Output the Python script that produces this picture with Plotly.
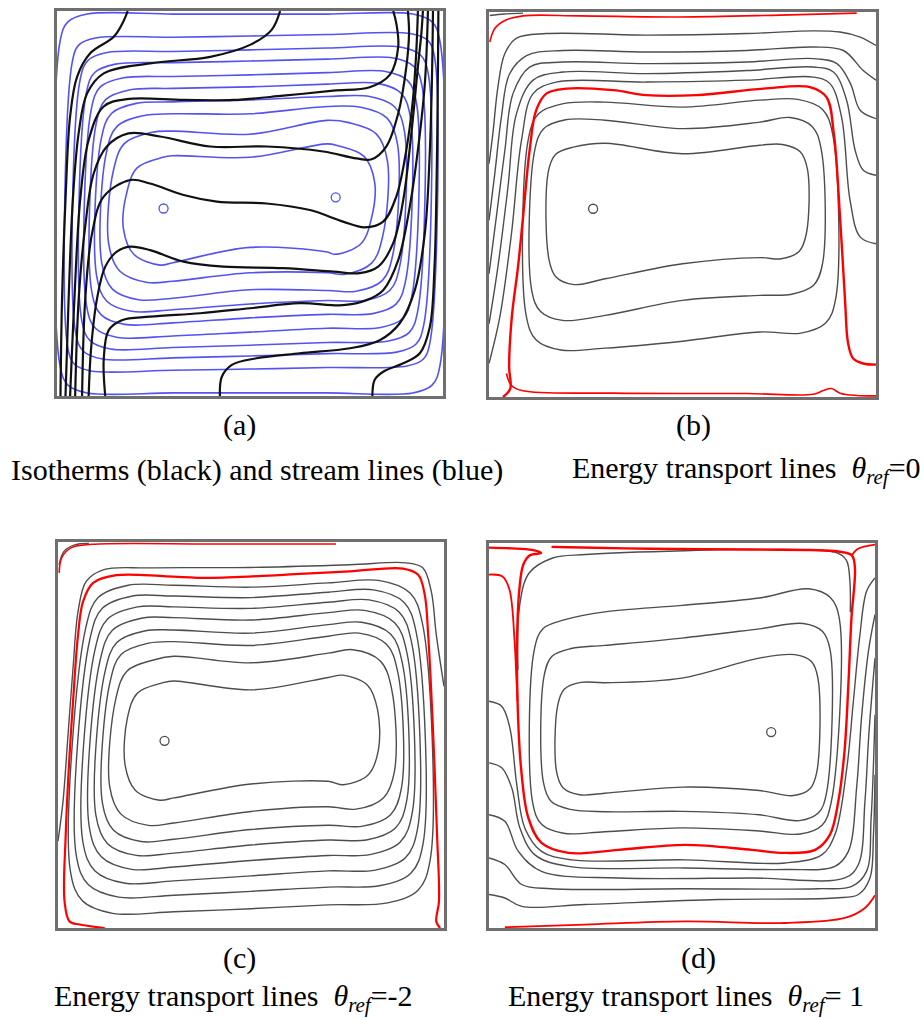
import plotly.graph_objects as go

W, H = 924, 1018

# ---------------------------------------------------------------- data
# All coordinates are in cavity units (0..100 in X and Y, Y upward).
STATIONS = [30, 50, 70]  # interior x-stations where top / bottom of each closed loop were read

# ---- panel (a): stream lines (closed loops, outer -> inner)
A_STREAM_LEFT_LO = [0.8, 2.8, 4.8, 6.4, 7.7, 9.0, 10.3, 11.6, 13.4, 17.2]
A_STREAM_LEFT_HI = [0.8, 4.0, 6.0, 7.6, 8.9, 10.2, 11.5, 12.8, 14.6, 18.0]
A_STREAM_RIGHT_LO = [99.2, 96.6, 95.0, 93.4, 91.9, 90.3, 88.8, 87.0, 84.4, 81.5]
A_STREAM_RIGHT_HI = [99.2, 97.8, 96.2, 94.6, 93.1, 91.5, 90.0, 88.2, 85.6, 82.3]
A_STREAM_TOP = [
    [99.2, 99.2, 99.2, 99.2, 99.2],
    [93.0, 93.2, 93.5, 93.9, 94.1],
    [89.2, 89.5, 89.9, 90.4, 90.6],
    [86.2, 86.6, 87.0, 87.5, 87.8],
    [82.6, 83.0, 83.4, 84.0, 84.3],
    [79.5, 79.9, 80.3, 81.0, 81.2],
    [76.0, 76.4, 76.9, 77.8, 77.8],
    [72.8, 73.3, 73.3, 75.2, 75.0],
    [68.5, 68.8, 68.0, 71.6, 71.0],
    [62.0, 62.4, 62.0, 65.5, 65.0],
]
A_STREAM_BOTTOM = [
    [0.8, 0.8, 0.8, 0.8, 0.8],
    [6.5, 6.7, 7.0, 7.4, 7.8],
    [9.6, 9.9, 10.4, 11.0, 11.4],
    [12.2, 12.6, 13.2, 13.9, 14.3],
    [15.2, 15.6, 16.6, 17.6, 17.8],
    [18.6, 19.0, 20.3, 21.2, 21.4],
    [22.0, 22.4, 23.9, 24.8, 24.8],
    [25.0, 25.4, 27.6, 27.4, 27.2],
    [29.5, 29.8, 32.0, 32.0, 31.6],
    [34.0, 34.6, 38.6, 37.4, 36.8],
]
A_STREAM_CORNER = [7, 6, 7, 7.5, 8, 8.5, 9, 9.5, 10, 9.5]
A_STREAM_CENTER_X = [27.6, 72.2]
A_STREAM_CENTER_Y = [48.7, 51.6]

# ---- panel (a): isotherms (open, bottom wall -> top wall)
A_ISOTHERM_X = [
    [0.9, 1.3, 2.2, 3.4, 5.2, 8.6, 14.7, 17.4, 18.3],
    [2.2, 3.0, 4.1, 5.6, 7.8, 12.1, 24.1, 39.7, 50.0, 55.6, 57.8],
    [3.4, 4.5, 6.0, 8.2, 12.1, 18.1, 32.8, 45.7, 58.6, 71.6, 81.0, 86.2, 88.4, 87.9, 87.1],
    [4.7, 5.6, 7.3, 9.5, 12.9, 18.5, 26.7, 39.7, 54.3, 69.0, 77.6, 81.5, 85.3, 88.4, 90.5, 91.2, 90.9],
    [6.5, 7.3, 9.1, 12.1, 19.0, 24.1, 32.8, 41.4, 54.3, 65.5, 74.1, 79.7, 84.5, 87.9, 90.5, 92.2, 93.1, 93.5],
    [8.2, 8.8, 10.3, 12.5, 15.5, 19.0, 24.1, 32.8, 43.1, 58.6, 71.6, 78.4, 83.2, 87.1, 89.7, 91.8, 93.5, 94.4, 94.8],
    [12.5, 12.1, 13.4, 16.8, 24.1, 37.1, 50.0, 62.9, 74.1, 80.2, 84.5, 88.4, 91.4, 93.5, 95.3, 96.1],
    [42.2, 42.7, 45.3, 51.7, 62.9, 75.9, 83.6, 88.8, 92.7, 95.3, 96.6, 97.2, 97.4],
    [81.7, 82.3, 84.5, 89.7, 94.0, 96.6, 97.8, 98.4, 98.7, 98.8],
]
A_ISOTHERM_Y = [
    [0, 24.9, 50.9, 72.6, 82.9, 89.0, 93.3, 97.7, 100],
    [0, 24.9, 50.9, 68.2, 78.6, 83.8, 86.4, 88.1, 91.2, 95.1, 100],
    [0, 24.9, 50.9, 66.5, 75.2, 77.1, 76.9, 76.9, 78.0, 79.3, 80.2, 83.4, 90.7, 96.8, 100],
    [0, 24.9, 44.0, 57.8, 64.8, 68.2, 67.4, 64.8, 64.8, 63.5, 61.7, 61.5, 64.8, 73.4, 85.5, 94.2, 100],
    [0, 24.9, 42.3, 51.8, 56.1, 55.2, 52.2, 50.5, 50.0, 48.3, 45.3, 43.8, 45.3, 51.8, 63.9, 76.9, 89.9, 100],
    [0, 11.9, 24.9, 33.6, 37.5, 38.8, 37.9, 34.9, 33.6, 33.2, 32.3, 31.9, 33.6, 39.7, 50.9, 68.2, 85.5, 94.2, 100],
    [0, 9.4, 17.1, 19.7, 20.6, 21.5, 22.8, 24.1, 23.6, 24.9, 27.5, 35.3, 49.2, 63.9, 81.2, 100],
    [0, 5.0, 8.1, 9.8, 11.1, 12.4, 14.5, 18.9, 27.5, 42.3, 63.9, 85.5, 100],
    [0, 4.2, 6.3, 8.5, 11.1, 18.0, 33.6, 59.6, 85.5, 100],
]

# ---- panel (b): energy transport lines, theta_ref = 0
B_LOOP_LEFT_LO = [15.5, 11.0, 9.6]
B_LOOP_LEFT_HI = [15.3, 11.8, 10.2]
B_LOOP_RIGHT_LO = [82.0, 86.2, 89.6]
B_LOOP_RIGHT_HI = [82.3, 85.8, 88.8]
B_LOOP_TOP = [[64.9, 65.9, 63.2, 65.4, 65.6], [72.0, 71.9, 69.7, 71.4, 72.6], [76.2, 76.6, 75.3, 77.1, 77.3]]
B_LOOP_BOTTOM = [[29.2, 30.7, 34.6, 36.2, 35.9], [19.9, 21.2, 25.1, 26.4, 26.7], [12.2, 12.7, 14.5, 16.9, 16.6]]
B_LOOP_CORNER = [6.5, 8, 9]
B_OPEN_X = [
    [0, 1.0, 2.3, 4.1, 7.1, 14.8, 40.7, 66.6, 83.8, 90.7, 95.9, 100],
    [0, 1.5, 3.2, 5.3, 9.7, 19.1, 40.7, 66.6, 83.8, 91.6, 96.7, 100],
    [0, 1.9, 4.1, 6.2, 10.5, 19.1, 40.7, 66.6, 83.8, 89.9, 93.4, 95.9, 100],
    [0, 2.3, 4.9, 7.1, 11.4, 19.1, 40.7, 66.6, 83.8, 89.0, 92.4, 94.6, 96.7, 100],
    [0, 2.8, 5.8, 8.4, 11.4, 17.4, 40.7, 66.6, 83.8, 88.1, 91.1, 93.3, 95.9, 100],
    [0.2, 4.0, 8.8],
]
B_OPEN_Y = [
    [60.6, 68.4, 80.5, 89.2, 93.2, 94.4, 94.0, 94.4, 95.1, 94.8, 93.5, 91.3],
    [45.9, 58.0, 72.7, 83.9, 88.7, 90.0, 89.6, 90.0, 90.9, 90.0, 84.8, 82.3],
    [32.0, 46.8, 64.1, 78.8, 85.7, 87.0, 86.6, 87.0, 87.9, 86.6, 81.4, 74.5, 72.3],
    [19.0, 33.8, 54.5, 73.6, 82.3, 84.4, 84.0, 84.8, 85.7, 84.4, 77.1, 64.1, 58.9, 57.6],
    [8.7, 20.8, 42.4, 66.7, 78.8, 81.8, 81.8, 82.3, 83.1, 81.4, 72.7, 51.1, 41.6, 39.8],
    [99.1, 99.5, 99.7],
]
B_RED_X = [
    [3.6, 5.5, 5.2, 5.9, 7.5, 8.8, 10.5, 12.2, 14.8, 20.0, 32.1, 40.7, 53.6, 70.9, 82.9, 87.2, 89.1, 90.7, 92.0, 92.8, 94.1, 96.7, 100],
    [4.5, 5.8, 8.8, 32.1, 66.6, 83.8, 86.4, 88.5, 90.7, 95.0, 100],
    [0.2, 1.5, 4.1, 8.8, 23.4, 49.3, 75.2, 95.0],
]
B_RED_Y = [
    [0, 2.2, 7.8, 20.8, 33.8, 46.8, 64.1, 74.5, 78.8, 80.1, 79.7, 78.4, 78.4, 80.1, 80.5, 77.9, 68.4, 46.8, 25.1, 13.9, 10.0, 8.7, 8.4],
    [6.1, 3.0, 1.6, 1.0, 0.9, 0.7, 1.7, 2.2, 1.0, 0.4, 0.3],
    [92.2, 95.7, 97.8, 99.0, 99.0, 98.7, 99.2, 99.7],
]
B_CENTER_X = [26.9]
B_CENTER_Y = [48.9]

# ---- panel (c): energy transport lines, theta_ref = -2
C_LOOP_LEFT_LO = [3.2, 4.7, 6.4, 8.1, 9.8, 11.5, 13.4, 17.4]
C_LOOP_LEFT_HI = [7.2, 8.3, 9.6, 10.9, 12.2, 13.5, 15.0, 18.0]
C_LOOP_RIGHT_LO = [96.4, 94.6, 93.2, 91.8, 90.4, 89.0, 87.2, 83.0]
C_LOOP_RIGHT_HI = [94.4, 92.8, 91.6, 90.4, 89.2, 88.0, 86.4, 82.8]
C_LOOP_TOP = [
    [88.8, 88.8, 88.3, 89.4, 90.0],
    [86.0, 86.0, 85.6, 87.0, 87.6],
    [83.2, 83.2, 82.8, 84.4, 85.0],
    [80.3, 80.4, 79.8, 81.7, 82.3],
    [77.0, 77.2, 76.4, 78.6, 79.2],
    [73.8, 74.2, 73.2, 75.6, 76.4],
    [69.5, 70.4, 68.7, 71.2, 72.1],
    [63.5, 64.0, 61.7, 64.9, 65.5],
]
C_LOOP_BOTTOM = [
    [3.8, 4.2, 5.0, 6.0, 6.5],
    [8.0, 8.5, 9.5, 10.6, 11.0],
    [11.6, 12.2, 13.5, 14.8, 15.0],
    [15.2, 15.8, 17.5, 18.8, 19.0],
    [18.8, 19.4, 21.5, 22.8, 22.8],
    [22.4, 23.0, 25.5, 26.6, 26.4],
    [26.6, 27.2, 30.2, 31.4, 30.8],
    [33.1, 33.7, 37.3, 38.0, 37.1],
]
C_LOOP_CORNER = [11, 11, 11, 11, 10.5, 10, 10, 9]
C_OPEN_X = [
    [0, 1.3, 2.6, 3.9, 5.2, 7.3, 11.7, 23.7, 49.7, 75.6, 90.2, 94.5, 96.7, 98.0, 100],
    [0.3, 1.5, 4.5, 8.0],
]
C_OPEN_Y = [
    [22.5, 32.8, 50.1, 67.4, 82.0, 89.8, 92.8, 93.3, 93.4, 94.1, 94.6, 93.3, 87.2, 76.0, 62.6],
    [94.0, 97.5, 99.3, 99.6],
]
C_RED_X = [
    [12.1, 5.6, 3.0, 1.7, 2.0, 2.8, 3.9, 5.2, 6.5, 9.1, 15.1, 28.1, 39.3, 58.3, 75.6, 89.4, 93.3, 95.0, 95.9, 97.2, 98.2, 98.7, 98.0, 99.0],
    [0.3, 1.0, 3.6, 8.8, 40.0, 72.0],
]
C_RED_Y = [
    [0, 0.9, 1.7, 6.9, 24.2, 41.5, 58.7, 76.0, 84.6, 89.4, 91.4, 91.1, 90.7, 91.5, 92.4, 93.1, 91.5, 86.4, 76.0, 50.1, 24.2, 6.9, 1.7, 0],
    [92.0, 96.0, 98.6, 99.4, 99.5, 99.5],
]
C_CENTER_X = [27.6]
C_CENTER_Y = [48.5]

# ---- panel (d): energy transport lines, theta_ref = 1
D_LOOP_LEFT_LO = [17.5, 14.1, 11.3]
D_LOOP_LEFT_HI = [17.8, 14.3, 11.7]
D_LOOP_RIGHT_LO = [84.9, 87.4, 88.6]
D_LOOP_RIGHT_HI = [85.2, 88.4, 90.8]
D_LOOP_TOP = [[63.8, 63.7, 64.9, 70.1, 71.0], [72.6, 73.4, 75.3, 77.7, 79.1], [80.1, 82.1, 83.8, 85.7, 88.1]]
D_LOOP_BOTTOM = [[34.6, 35.0, 36.6, 35.7, 34.4], [30.8, 30.2, 30.3, 29.4, 27.9], [24.6, 25.0, 26.0, 25.2, 24.4]]
D_LOOP_CORNER = [6, 7, 8]
D_OPEN_X = [
    [0, 3.3, 5.4, 7.2, 9.3, 13.6, 21.4, 50.8, 76.7, 86.2, 89.6, 92.7, 94.4, 96.1, 97.8, 100],
    [0, 3.3, 5.9, 8.0, 11.9, 20.6, 50.8, 76.7, 89.6, 93.1, 95.3, 96.5, 98.3, 100],
    [0, 4.1, 7.6, 13.6, 33.5, 68.0, 92.2, 95.7, 97.4, 98.4, 100],
    [0, 4.1, 8.5, 16.2, 50.8, 85.3, 94.0, 97.8, 99.0, 100],
    [0, 4.1, 8.5, 24.9, 59.4, 89.6, 95.7, 98.7, 99.6, 100],
    [7.5, 7.9, 10.4, 16.5, 25.1, 50.8, 76.7, 90.0, 92.6, 93.5, 93.6],
]
D_OPEN_Y = [
    [58.9, 57.6, 52.0, 37.2, 25.9, 19.9, 17.7, 17.7, 16.9, 19.0, 24.2, 41.6, 58.9, 76.2, 87.4, 90.9],
    [42.9, 41.6, 36.4, 26.0, 19.0, 16.0, 15.6, 15.2, 16.0, 19.9, 37.2, 54.5, 71.9, 81.4],
    [29.4, 27.7, 19.9, 14.7, 13.0, 13.0, 13.0, 16.5, 32.9, 50.2, 70.1],
    [18.2, 16.5, 11.3, 10.2, 10.2, 10.2, 10.8, 14.7, 28.6, 55.4],
    [8.7, 7.8, 5.6, 6.1, 7.4, 7.8, 8.7, 13.0, 24.2, 39.8],
    [67.1, 83.5, 92.2, 96.1, 97.0, 98.0, 98.3, 97.5, 95.5, 90.0, 82.0],
]
D_RED_X = [
    [0, 5.9, 11.1, 13.5, 10.6, 8.9, 7.9, 7.3, 7.4, 8.3, 10.2, 13.6, 20.6, 33.5, 50.8, 68.0, 76.7, 84.5, 88.3, 90.5, 92.1, 93.1, 93.9, 94.8, 94.0, 90.5, 68.0, 42.1, 20.6, 16.2],
    [94.0, 95.3, 97.4, 100],
    [0, 3.5, 5.3, 6.6, 7.0, 7.4],
    [4.1, 24.9, 50.8, 76.7, 92.2, 97.4, 100],
]
D_RED_Y = [
    [98.8, 98.6, 98.2, 97.4, 96.8, 94.4, 88.3, 76.2, 58.9, 41.6, 28.6, 22.1, 19.5, 20.3, 21.6, 20.3, 19.5, 20.3, 24.2, 32.9, 45.9, 63.2, 80.5, 93.5, 96.8, 97.8, 98.3, 98.5, 98.9, 99.0],
    [96.8, 98.3, 99.1, 99.6],
    [91.8, 91.3, 87.9, 74.9, 67.1, 58.9],
    [0.2, 0.9, 1.7, 1.3, 2.6, 5.2, 8.5],
]
D_CENTER_X = [73.1]
D_CENTER_Y = [50.9]

LABELS = ["(a)", "(b)", "(c)", "(d)"]
CAPTIONS = [
    "Isotherms (black) and stream lines (blue)",
    "Energy transport lines\u00a0\u00a0<i>θ<sub>ref</sub></i>=0",
    "Energy transport lines\u00a0\u00a0<i>θ<sub>ref</sub></i>=-2",
    "Energy transport lines\u00a0\u00a0<i>θ<sub>ref</sub></i>= 1",
]

# ---------------------------------------------------------------- layout / style
PANEL_BOX = [(57, 11, 443, 396), (489, 12, 876, 397), (58, 542, 444, 928), (489, 543, 875, 928)]
LABEL_POS = [(240, 425), (693, 425), (240, 958), (698, 958)]
CAPTION_POS = [(257, 470, "center"), (570, 470, "left"), (52, 998, "left"), (506, 998, "left")]

BLUE = "#5353f2"
BLACK = "#111111"
GRAY = "#4d4d4d"
RED = "#ff0000"
FRAME = "#6f6f6f"
FONT = "Liberation Serif"


def loop_xy(llo, lhi, rlo, rhi, top, bot, r):
    k = 0.29
    pts = [
        (llo, bot[0] + r), (lhi, top[0] - r), (lhi + k * r, top[0] - k * r), (lhi + r, top[0]),
        (STATIONS[0], top[1]), (STATIONS[1], top[2]), (STATIONS[2], top[3]),
        (rhi - r, top[4]), (rhi - k * r, top[4] - k * r), (rhi, top[4] - r),
        (rlo, bot[4] + r), (rlo - k * r, bot[4] + k * r), (rlo - r, bot[4]),
        (STATIONS[2], bot[3]), (STATIONS[1], bot[2]), (STATIONS[0], bot[1]),
        (llo + r, bot[0]), (llo + k * r, bot[0] + k * r),
    ]
    pts.append(pts[0])
    return [p[0] for p in pts], [p[1] for p in pts]


fig = go.Figure()


def add_line(xs, ys, n, color, width):
    fig.add_trace(go.Scatter(
        x=xs, y=ys, mode="lines", xaxis=f"x{n}", yaxis=f"y{n}",
        line=dict(color=color, width=width, shape="spline", smoothing=1.0),
        hoverinfo="skip", showlegend=False))


def add_loops(n, llo, lhi, rlo, rhi, top, bot, corner, color, width):
    for i in range(len(llo)):
        xs, ys = loop_xy(llo[i], lhi[i], rlo[i], rhi[i], top[i], bot[i], corner[i])
        add_line(xs, ys, n, color, width)


def add_centers(n, xs, ys, color):
    fig.add_trace(go.Scatter(
        x=xs, y=ys, mode="markers", xaxis=f"x{n}", yaxis=f"y{n}",
        marker=dict(symbol="circle-open", size=9, color=color, line=dict(width=1.3, color=color)),
        hoverinfo="skip", showlegend=False))


# (a)
add_loops(1, A_STREAM_LEFT_LO, A_STREAM_LEFT_HI, A_STREAM_RIGHT_LO, A_STREAM_RIGHT_HI,
          A_STREAM_TOP, A_STREAM_BOTTOM, A_STREAM_CORNER, BLUE, 1.6)
add_centers(1, A_STREAM_CENTER_X, A_STREAM_CENTER_Y, BLUE)
for xs, ys in zip(A_ISOTHERM_X, A_ISOTHERM_Y):
    add_line(xs, ys, 1, BLACK, 2.2)

# (b)
add_loops(2, B_LOOP_LEFT_LO, B_LOOP_LEFT_HI, B_LOOP_RIGHT_LO, B_LOOP_RIGHT_HI,
          B_LOOP_TOP, B_LOOP_BOTTOM, B_LOOP_CORNER, GRAY, 1.4)
for xs, ys in zip(B_OPEN_X, B_OPEN_Y):
    add_line(xs, ys, 2, GRAY, 1.4)
for i, (xs, ys) in enumerate(zip(B_RED_X, B_RED_Y)):
    add_line(xs, ys, 2, RED, 2.4 if i == 0 else 1.6)
add_centers(2, B_CENTER_X, B_CENTER_Y, GRAY)

# (c)
add_loops(3, C_LOOP_LEFT_LO, C_LOOP_LEFT_HI, C_LOOP_RIGHT_LO, C_LOOP_RIGHT_HI,
          C_LOOP_TOP, C_LOOP_BOTTOM, C_LOOP_CORNER, GRAY, 1.4)
for xs, ys in zip(C_OPEN_X, C_OPEN_Y):
    add_line(xs, ys, 3, GRAY, 1.4)
for i, (xs, ys) in enumerate(zip(C_RED_X, C_RED_Y)):
    add_line(xs, ys, 3, RED, 2.2 if i == 0 else 1.6)
add_centers(3, C_CENTER_X, C_CENTER_Y, GRAY)

# (d)
add_loops(4, D_LOOP_LEFT_LO, D_LOOP_LEFT_HI, D_LOOP_RIGHT_LO, D_LOOP_RIGHT_HI,
          D_LOOP_TOP, D_LOOP_BOTTOM, D_LOOP_CORNER, GRAY, 1.4)
for xs, ys in zip(D_OPEN_X, D_OPEN_Y):
    add_line(xs, ys, 4, GRAY, 1.4)
for i, (xs, ys) in enumerate(zip(D_RED_X, D_RED_Y)):
    add_line(xs, ys, 4, RED, 2.4 if i == 0 else 1.8)
add_centers(4, D_CENTER_X, D_CENTER_Y, GRAY)

layout = dict(width=W, height=H, margin=dict(l=0, r=0, t=0, b=0),
              paper_bgcolor="white", plot_bgcolor="white", showlegend=False)
for n, (l, t, r, b) in enumerate(PANEL_BOX, start=1):
    ax = dict(range=[0, 100], showgrid=False, zeroline=False, showticklabels=False, ticks="",
              showline=True, mirror=True, linecolor=FRAME, linewidth=2.5, fixedrange=True)
    layout[f"xaxis{n}"] = dict(ax, domain=[l / W, r / W], anchor=f"y{n}")
    layout[f"yaxis{n}"] = dict(ax, domain=[1 - b / H, 1 - t / H], anchor=f"x{n}")

ann = []
for text, (x, y) in zip(LABELS, LABEL_POS):
    ann.append(dict(text=text, x=x / W, y=1 - y / H, xref="paper", yref="paper",
                    xanchor="center", yanchor="middle", showarrow=False,
                    font=dict(family=FONT, size=30, color="black")))
for text, (x, y, anchor) in zip(CAPTIONS, CAPTION_POS):
    ann.append(dict(text=text, x=x / W, y=1 - y / H, xref="paper", yref="paper",
                    xanchor=anchor, yanchor="middle", showarrow=False,
                    font=dict(family=FONT, size=30, color="black")))
layout["annotations"] = ann
fig.update_layout(**layout)
fig.write_html("out.html")
